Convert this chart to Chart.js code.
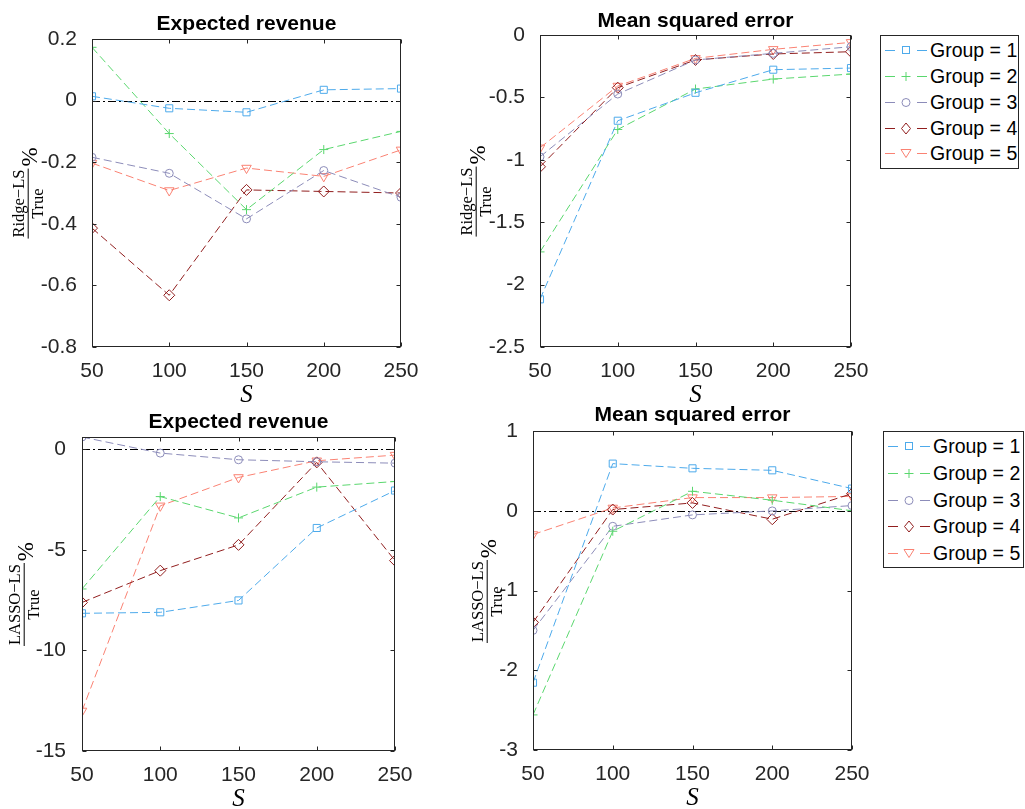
<!DOCTYPE html>
<html><head><meta charset="utf-8">
<script src="https://cdn.jsdelivr.net/npm/chart.js@4.4.1/dist/chart.umd.min.js"></script>
<style>
html,body{margin:0;padding:0;background:#fff;}
#wrap{position:relative;width:1025px;height:809px;overflow:hidden;background:#fff;}
#wrap canvas{position:absolute;}
.title{position:absolute;transform:translate(-50%,-50%);font:bold 21px "Liberation Sans",Arial,sans-serif;color:#000;white-space:nowrap;}
.yl{position:absolute;width:0;height:0;transform:rotate(-90deg);transform-origin:0 0;}
.yl .in{position:absolute;left:0;top:0;transform:translate(-50%,-50%);display:flex;align-items:center;white-space:nowrap;font-family:"Liberation Serif",serif;color:#000;}
.frac{display:inline-flex;flex-direction:column;align-items:center;font-size:16.5px;line-height:1.05;}
.frac .num{border-bottom:1px solid #000;padding:0 1px 1px;}
.pct{font-size:23px;margin-left:2px;position:relative;top:2px;}
.legend{position:absolute;border:1px solid #262626;background:#fff;box-sizing:border-box;}
.row{position:absolute;left:4px;height:24px;display:flex;align-items:center;font:19.5px "Liberation Sans",Arial,sans-serif;color:#000;white-space:nowrap;}
.row svg{margin-right:3px;}
</style></head>
<body>
<div id="wrap"></div>
<script>
// ---------------- data ----------------
const xValues = [50, 100, 150, 200, 250];
const groupLabels = ['Group = 1', 'Group = 2', 'Group = 3', 'Group = 4', 'Group = 5'];

const ridgeRevenue = [
  [0.014, -0.025, -0.038, 0.035, 0.039],
  [0.173, -0.107, -0.354, -0.159, -0.100],
  [-0.184, -0.236, -0.384, -0.227, -0.314],
  [-0.414, -0.632, -0.290, -0.295, -0.300],
  [-0.203, -0.292, -0.219, -0.246, -0.160]
];
const ridgeMSE = [
  [-2.118, -0.687, -0.463, -0.278, -0.265],
  [-1.738, -0.757, -0.433, -0.353, -0.313],
  [-0.976, -0.473, -0.200, -0.147, -0.094],
  [-1.056, -0.422, -0.200, -0.152, -0.134],
  [-0.904, -0.409, -0.187, -0.115, -0.059]
];
const lassoRevenue = [
  [-8.16, -8.11, -7.52, -3.92, -2.06],
  [-6.95, -2.36, -3.42, -1.89, -1.61],
  [0.60, -0.20, -0.53, -0.63, -0.70],
  [-7.62, -6.04, -4.76, -0.66, -5.54],
  [-13.01, -2.82, -1.41, -0.58, -0.30]
];
const lassoMSE = [
  [-2.156, 0.591, 0.532, 0.507, 0.278],
  [-2.56, -0.257, 0.244, 0.132, 0.0],
  [-1.50, -0.195, -0.052, -0.002, 0.065],
  [-1.40, 0.015, 0.098, -0.106, 0.215],
  [-0.298, 0.035, 0.165, 0.165, 0.18]
];

const xTicks = [50, 100, 150, 200, 250];
const yTicksRidgeRevenue = [-0.8, -0.6, -0.4, -0.2, 0, 0.2];
const yTicksRidgeMSE = [-2.5, -2, -1.5, -1, -0.5, 0];
const yTicksLassoRevenue = [-15, -10, -5, 0];
const yTicksLassoMSE = [-3, -2, -1, 0, 1];

// ---------------- styles ----------------
const colors = ['rgb(77,170,235)', 'rgb(90,215,110)', 'rgb(140,140,185)', 'rgb(145,30,30)', 'rgb(250,130,115)'];
const pStyles = ['rect', 'cross', 'circle', 'rectRot', 'triangle'];
const pRot = [0, 0, 0, 0, 180];
const pRad = [5, 4.5, 4, 5.5, 5.5];
const axisCol = '#262626';

const wrap = document.getElementById('wrap');

const boxPlugin = {
  id: 'mbox',
  beforeDatasetsDraw(chart) {
    const ctx = chart.ctx, a = chart.chartArea, ys = chart.scales.y;
    const y0 = Math.round(ys.getPixelForValue(0)) + 0.5;
    ctx.save();
    ctx.strokeStyle = '#000';
    ctx.lineWidth = 1;
    ctx.setLineDash([8, 3, 2, 3]);
    ctx.beginPath();
    ctx.moveTo(a.left, y0);
    ctx.lineTo(a.right, y0);
    ctx.stroke();
    ctx.restore();
  },
  afterDatasetsDraw(chart) {
    const ctx = chart.ctx, a = chart.chartArea, xs = chart.scales.x, ys = chart.scales.y;
    const L = Math.round(a.left) + 0.5, R = Math.round(a.right) - 0.5;
    const T = Math.round(a.top) + 0.5, B = Math.round(a.bottom) - 0.5;
    ctx.save();
    ctx.strokeStyle = axisCol;
    ctx.lineWidth = 1;
    ctx.setLineDash([]);
    ctx.strokeRect(L, T, R - L, B - T);
    ctx.beginPath();
    const tl = 4;
    ys.ticks.forEach(t => {
      const p = Math.round(ys.getPixelForValue(t.value)) + 0.5;
      ctx.moveTo(L, p); ctx.lineTo(L + tl, p);
      ctx.moveTo(R, p); ctx.lineTo(R - tl, p);
    });
    xs.ticks.forEach(t => {
      const p = Math.round(xs.getPixelForValue(t.value)) + 0.5;
      ctx.moveTo(p, B); ctx.lineTo(p, B - tl);
      ctx.moveTo(p, T); ctx.lineTo(p, T + tl);
    });
    ctx.stroke();
    ctx.restore();
  }
};

function makePanel(cfg) {
  const padL = 80, padT = 15, padR = 40, padB = 62, YW = 60, XH = 61;
  const w = (cfg.R - cfg.L) + padL + padR;
  const h = (cfg.B - cfg.T) + padT + padB;
  const cv = document.createElement('canvas');
  cv.width = w; cv.height = h;
  cv.style.left = (cfg.L - padL) + 'px';
  cv.style.top = (cfg.T - padT) + 'px';
  cv.style.width = w + 'px'; cv.style.height = h + 'px';
  wrap.appendChild(cv);

  const datasets = cfg.series.map((s, i) => ({
    label: groupLabels[i],
    data: xValues.map((x, k) => ({ x: x, y: s[k] })),
    borderColor: colors[i],
    backgroundColor: 'rgba(0,0,0,0)',
    borderWidth: 1,
    borderDash: [8, 4],
    pointStyle: pStyles[i],
    pointRotation: pRot[i],
    pointRadius: pRad[i],
    pointBorderWidth: 1,
    pointBorderColor: colors[i],
    pointBackgroundColor: 'rgba(0,0,0,0)',
    tension: 0,
    fill: false
  }));

  const tickFont = { family: '"Liberation Sans", Arial, sans-serif', size: 21 };
  new Chart(cv, {
    type: 'line',
    data: { datasets },
    options: {
      responsive: false,
      animation: false,
      devicePixelRatio: 1,
      events: [],
      layout: { autoPadding: false, padding: { left: padL - YW, top: padT, right: padR, bottom: padB - XH } },
      plugins: { legend: { display: false }, title: { display: false }, tooltip: { enabled: false } },
      scales: {
        x: {
          type: 'linear', min: 50, max: 250,
          grid: { display: false }, border: { display: false },
          afterBuildTicks: s => { s.ticks = xTicks.map(v => ({ value: v })); },
          ticks: { font: tickFont, color: axisCol, padding: 4, maxRotation: 0, autoSkip: false, callback: v => String(v) },
          title: { display: true, text: 'S', color: '#000', padding: 0,
                   font: { family: '"Liberation Serif", serif', style: 'italic', size: 25, lineHeight: 1 } },
          afterFit: s => { s.height = XH; s.paddingLeft = 0; s.paddingRight = 0; }
        },
        y: {
          type: 'linear', min: cfg.yMin, max: cfg.yMax,
          grid: { display: false }, border: { display: false },
          afterBuildTicks: s => { s.ticks = cfg.yTicks.map(v => ({ value: v })); },
          ticks: { font: tickFont, color: axisCol, padding: cfg.yPad, autoSkip: false, callback: v => String(v) },
          afterFit: s => { s.width = YW; s.paddingTop = 0; s.paddingBottom = 0; }
        }
      }
    },
    plugins: [boxPlugin]
  });

  // title
  const t = document.createElement('div');
  t.className = 'title';
  t.textContent = cfg.title;
  t.style.left = ((cfg.L + cfg.R) / 2) + 'px';
  t.style.top = cfg.titleY + 'px';
  wrap.appendChild(t);

  // y label
  const yl = document.createElement('div');
  yl.className = 'yl';
  yl.style.left = (cfg.L - cfg.ylOff) + 'px';
  yl.style.top = ((cfg.T + cfg.B) / 2) + 'px';
  yl.innerHTML = '<div class="in"><span class="frac"><span class="num">' + cfg.num +
    '</span><span class="den">True</span></span><span class="pct">%</span></div>';
  wrap.appendChild(yl);
}

function markerSVG(i) {
  const c = colors[i];
  let m = '';
  if (i === 0) m = '<rect x="17.5" y="3.5" width="7" height="7" fill="none" stroke="' + c + '"/>';
  if (i === 1) m = '<path d="M16.5 7.5H25.5M21 3V12" stroke="' + c + '" fill="none"/>';
  if (i === 2) m = '<circle cx="21" cy="7.5" r="4" fill="none" stroke="' + c + '"/>';
  if (i === 3) m = '<polygon points="21,2 25.5,7.5 21,13 16.5,7.5" fill="none" stroke="' + c + '"/>';
  if (i === 4) m = '<polygon points="16,3.5 26,3.5 21,11.5" fill="none" stroke="' + c + '"/>';
  return '<svg width="42" height="15" viewBox="0 0 42 15"><line x1="0" y1="7.5" x2="42" y2="7.5" stroke="' + c +
    '" stroke-width="1" stroke-dasharray="10 22"/>' + m + '</svg>';
}

function makeLegend(left, top, width, height, first, step) {
  const box = document.createElement('div');
  box.className = 'legend';
  box.style.left = left + 'px'; box.style.top = top + 'px';
  box.style.width = width + 'px'; box.style.height = height + 'px';
  groupLabels.forEach((g, i) => {
    const r = document.createElement('div');
    r.className = 'row';
    r.style.top = (first + step * i - 12 - 1) + 'px';
    r.innerHTML = markerSVG(i) + '<span>' + g + '</span>';
    box.appendChild(r);
  });
  wrap.appendChild(box);
}

makePanel({ L: 92, R: 401, T: 39, B: 347, yMin: -0.8, yMax: 0.2, yTicks: yTicksRidgeRevenue, series: ridgeRevenue,
  title: 'Expected revenue', titleY: 22.7, num: 'Ridge\u2212LS', ylOff: 64, yPad: 7 });
makePanel({ L: 540, R: 851, T: 35, B: 347, yMin: -2.5, yMax: 0, yTicks: yTicksRidgeMSE, series: ridgeMSE,
  title: 'Mean squared error', titleY: 20, num: 'Ridge\u2212LS', ylOff: 64, yPad: 7 });
makePanel({ L: 82, R: 395, T: 437, B: 751, yMin: -15, yMax: 0.6, yTicks: yTicksLassoRevenue, series: lassoRevenue,
  title: 'Expected revenue', titleY: 420.7, num: 'LASSO\u2212LS', ylOff: 58, yPad: 8 });
makePanel({ L: 533, R: 852, T: 431, B: 750, yMin: -3, yMax: 1, yTicks: yTicksLassoMSE, series: lassoMSE,
  title: 'Mean squared error', titleY: 414, num: 'LASSO\u2212LS', ylOff: 46, yPad: 7 });

makeLegend(880, 35, 139, 134, 15.7, 25.8);
makeLegend(883, 431, 141, 137, 15.7, 26.7);
</script>
</body></html>
